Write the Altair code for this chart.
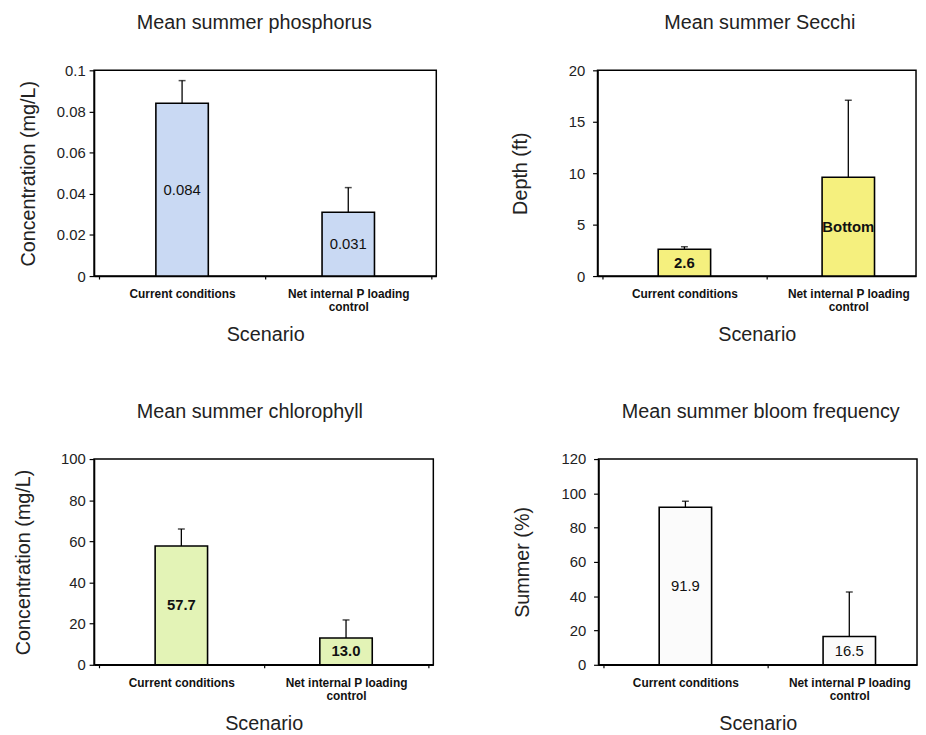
import json
import altair as alt
import pandas as pd

# ---- data -------------------------------------------------------------
scenario_lines = [["Current conditions"], ["Net internal P loading", "control"]]
slots = [0.5, 1.5]  # centre of each scenario slot on the category axis

phos_mean = [0.084, 0.031]
phos_err_top = [0.095, 0.043]
phos_label = ["0.084", "0.031"]

secchi_mean = [2.6, 9.6]
secchi_err_top = [2.85, 17.1]
secchi_label = ["2.6", "Bottom"]

chl_mean = [57.7, 13.0]
chl_err_top = [66.0, 21.8]
chl_label = ["57.7", "13.0"]

bloom_mean = [91.9, 16.5]
bloom_err_top = [95.4, 42.4]
bloom_label = ["91.9", "16.5"]

FONT = "Liberation Sans"

label_expr = (
    f"datum.value === {slots[0]} ? {json.dumps(scenario_lines[0])} : "
    f"datum.value === {slots[1]} ? {json.dumps(scenario_lines[1])} : ''"
)


def panel(title, ytitle, means, errs, labels, color, ymax, ystep, xmax, width,
          label_weight, title_dx, y_title_pad, y_label_pad):
    df = pd.DataFrame({"pos": slots, "mean": means, "err": errs, "label": labels})
    xticks = [v / 2 for v in range(0, int(xmax * 2) + 1)]
    x = alt.X(
        "pos:Q",
        scale=alt.Scale(domain=[0, xmax], nice=False, zero=False),
        axis=alt.Axis(
            values=xticks, labelExpr=label_expr, grid=False,
            domainColor="black", domainWidth=1.5,
            tickColor="black", tickWidth=1.2, tickSize=3,
            tickOpacity=alt.condition("datum.value % 1 === 0", alt.value(1), alt.value(0)),
            labelFont=FONT, labelFontSize=12, labelFontWeight="bold", labelColor="#111",
            labelPadding=10, labelLineHeight=13, labelOverlap=False, labelFlush=False,
            titleFont=FONT, titleFontSize=20, titleFontWeight="normal", titleColor="#222",
            titlePadding=12,
        ),
        title="Scenario",
    )
    yticks = [round(i * ystep, 6) for i in range(int(round(ymax / ystep)) + 1)]

    def Y(field):
        return alt.Y(
            field,
            scale=alt.Scale(domain=[0, ymax], nice=False),
            axis=alt.Axis(
                values=yticks, format="~r", grid=False,
                domainColor="black", domainWidth=1.5,
                tickColor="black", tickWidth=1.2, tickSize=5,
                labelFont=FONT, labelFontSize=15, labelColor="#222",
                labelPadding=y_label_pad,
                titleFont=FONT, titleFontSize=20, titleFontWeight="normal",
                titleColor="#222", titlePadding=y_title_pad,
            ),
            title=ytitle,
        )

    base = alt.Chart(df)
    err_rule = base.mark_rule(color="black", strokeWidth=1.3).encode(
        x=x, y=Y("mean:Q"), y2="err:Q")
    err_cap = base.mark_tick(color="black", orient="horizontal", size=7,
                             thickness=1.5).encode(x=x, y=Y("err:Q"))
    bars = base.mark_bar(size=53, fill=color, stroke="black",
                         strokeWidth=1.6).encode(x=x, y=Y("mean:Q"))
    text = base.transform_calculate(mid="datum.mean / 2").mark_text(
        font=FONT, fontSize=15, fontWeight=label_weight, color="#111",
        baseline="middle").encode(x=x, y=Y("mid:Q"), text="label:N")
    return alt.layer(err_rule, err_cap, bars, text).properties(
        width=width, height=208,
        title=alt.TitleParams(title, anchor="middle", frame="group", dx=title_dx,
                              font=FONT, fontSize=20, fontWeight="normal",
                              color="#222", offset=31),
    )


# right-hand panels are cut at the page edge, as in the source figure
p1 = panel("Mean summer phosphorus", "Concentration (mg/L)", phos_mean, phos_err_top,
           phos_label, "#c9d9f3", 0.1, 0.02, 2, 346, "normal", -11, 18, 4)
p2 = panel("Mean summer Secchi", "Depth (ft)", secchi_mean, secchi_err_top,
           secchi_label, "#f5f07e", 20, 5, 1.883, 322, "bold", 3, 38, 8)
p3 = panel("Mean summer chlorophyll", "Concentration (mg/L)", chl_mean, chl_err_top,
           chl_label, "#e3f3b6", 100, 20, 2, 343, "bold", -14, 27, 4)
p4 = panel("Mean summer bloom frequency", "Summer (%)", bloom_mean, bloom_err_top,
           bloom_label, "#fbfbfb", 120, 20, 1.883, 322, "normal", 3, 29, 8)

chart = alt.vconcat(
    alt.hconcat(p1, p2, spacing=73),
    alt.hconcat(p3, p4, spacing=78),
    spacing=56,
).properties(
    padding={"left": 5, "top": 0, "right": 0, "bottom": 0},
    background="white",
).configure_view(stroke="black", strokeWidth=1.5)

chart.save("out.html", embed_options={"renderer": "svg", "actions": False})
